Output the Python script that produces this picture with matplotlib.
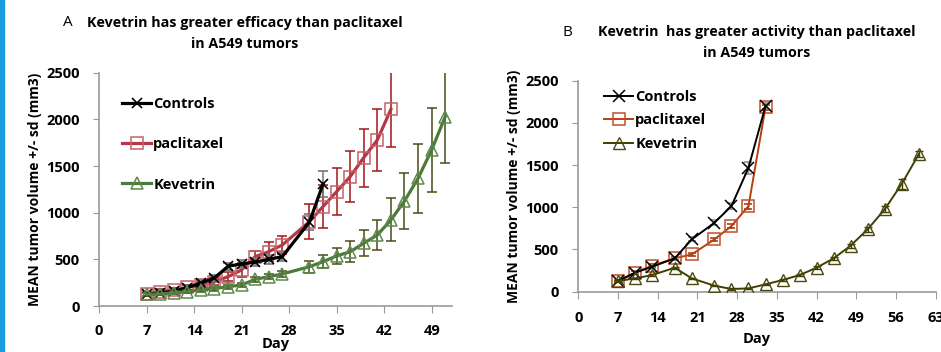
import matplotlib.pyplot as plt
from matplotlib.patches import Rectangle

plt.rcParams['font.family'] = ['Open Sans', 'DejaVu Sans']

# ---- panel A data ----
a_ctrl_day = [7, 9, 11, 13, 15, 17, 19, 21, 23, 25, 27, 31, 33]
a_ctrl_vol = [128, 140, 160, 195, 246, 300, 425, 452, 470, 500, 529, 900, 1307]
a_ctrl_sd = [20, 20, 20, 25, 30, 35, 40, 40, 40, 45, 50, 90, 135]

a_pac_day = [7, 9, 11, 13, 15, 17, 19, 21, 23, 25, 27, 31, 33, 35, 37, 39, 41, 43]
a_pac_vol = [127, 154, 171, 200, 225, 261, 314, 386, 529, 582, 654, 904, 1065,
             1225, 1386, 1590, 1779, 2108]
a_pac_sd = [25, 25, 25, 30, 30, 35, 45, 70, 60, 100, 100, 190, 230,
            250, 270, 310, 335, 400]

a_kev_day = [7, 9, 11, 13, 15, 17, 19, 21, 23, 25, 27, 31, 33, 35, 37, 39,
             41, 43, 45, 47, 49, 51]
a_kev_vol = [125, 129, 143, 154, 171, 186, 207, 225, 286, 314, 343, 421, 475,
             536, 582, 672, 761, 922, 1125, 1368, 1672, 2029]
a_kev_sd = [15, 15, 15, 15, 18, 20, 20, 22, 25, 28, 30, 65, 70, 90, 110, 140,
            165, 230, 300, 370, 450, 500]

# ---- panel B data ----
b_ctrl_day = [7, 10, 13, 17, 20, 24, 27, 30, 33]
b_ctrl_vol = [126, 225, 296, 395, 620, 817, 1015, 1469, 2200]
b_ctrl_sd = [10, 15, 15, 20, 25, 30, 35, 70, 30]

b_pac_day = [7, 10, 13, 17, 20, 24, 27, 30, 33]
b_pac_vol = [126, 225, 308, 395, 442, 620, 778, 1015, 2184]
b_pac_sd = [10, 15, 15, 15, 20, 20, 25, 30, 30]

b_kev_day = [7, 10, 13, 17, 20, 24, 27, 30, 33, 36, 39, 42, 45, 48, 51, 54, 57, 60]
b_kev_vol = [126, 158, 197, 284, 158, 71, 32, 39, 87, 138, 197, 284, 395,
             545, 739, 975, 1276, 1627]
b_kev_sd = [8, 8, 10, 12, 10, 8, 6, 6, 8, 10, 12, 15, 18, 25, 30, 35, 60, 35]

ylabel = 'MEAN tumor volume +/- sd (mm3)'

fig = plt.figure(figsize=(9.41, 3.52), dpi=100)
fig.patches.append(Rectangle((0, 0), 3.5 / 941, 1, transform=fig.transFigure,
                             color='#1A9BE0', zorder=0))


def style_axes(ax, xmax, xpad):
    for s in ['top', 'right']:
        ax.spines[s].set_visible(False)
    for s in ['left', 'bottom']:
        ax.spines[s].set_color('#999999')
        ax.spines[s].set_linewidth(1.2)
    ax.set_ylim(0, 2500)
    ax.set_xlim(0, xmax)
    ax.set_xticks(range(0, xmax + 1, 7))
    ax.set_yticks(range(0, 2501, 500))
    ax.tick_params(axis='x', direction='out', length=5, color='#999999', pad=xpad,
                   labelsize=10.5)
    ax.tick_params(axis='y', direction='out', length=4, color='#999999', pad=10,
                   labelsize=10.5)
    for lab in ax.get_xticklabels() + ax.get_yticklabels():
        lab.set_fontweight('bold')


# ---- panel A ----
ax = fig.add_axes([99 / 941, 1 - 306 / 352, 353 / 941, 233.3 / 352])
ax.errorbar(a_ctrl_day, a_ctrl_vol, yerr=a_ctrl_sd, color='black', lw=2.3,
            marker='x', ms=7, mew=1.2, ecolor='#777777', elinewidth=1.1,
            capsize=3.5, label='Controls', zorder=3)
ax.errorbar(a_pac_day, a_pac_vol, yerr=a_pac_sd, color='#B23A48', lw=2.3,
            marker='s', ms=8, mfc='none', mec='#C8606A', mew=1.1,
            ecolor='#A01818', elinewidth=1.1, capsize=3.5, label='paclitaxel',
            zorder=2)
ax.errorbar(a_kev_day, a_kev_vol, yerr=a_kev_sd, color='#4B7A3A', lw=2.3,
            marker='^', ms=8, mfc='none', mec='#5E8A4C', mew=1.1,
            ecolor='#4A4A18', elinewidth=1.1, capsize=3.5, label='Kevetrin',
            zorder=4)
style_axes(ax, 52, 8)
ax.set_xlabel('Day', fontsize=10.5, fontweight='bold', labelpad=-1)
ax.set_ylabel(ylabel, fontsize=10, fontweight='bold', labelpad=3)
h, l = ax.get_legend_handles_labels()
h = [hh[0] for hh in h]
ax.legend(h, l, loc='upper left', bbox_to_anchor=(122 / 941, 1 - 97 / 352),
          bbox_transform=fig.transFigure, frameon=False, handlelength=2.0,
          handletextpad=0.15, labelspacing=1.8,
          prop={'weight': 'bold', 'size': 10.5}, borderaxespad=0, borderpad=0)
fig.text(68 / 941, 1 - 23 / 352, 'A', fontsize=11, ha='center', va='center')
fig.text(245 / 941, 1 - 23 / 352, 'Kevetrin has greater efficacy than paclitaxel',
         fontsize=10.3, fontweight='bold', ha='center', va='center')
fig.text(245 / 941, 1 - 44 / 352, 'in A549 tumors', fontsize=10.3,
         fontweight='bold', ha='center', va='center')

# ---- panel B ----
bx = fig.add_axes([578.3 / 941, 1 - 291.7 / 352, 357.4 / 941, 211 / 352])
bx.errorbar(b_ctrl_day, b_ctrl_vol, yerr=b_ctrl_sd, color='black', lw=1.4,
            marker='x', ms=8, mew=1.1, ecolor='#888888', elinewidth=1.0,
            capsize=3, label='Controls', zorder=3)
bx.errorbar(b_pac_day, b_pac_vol, yerr=b_pac_sd, color='#B5400F', lw=1.4,
            marker='s', ms=8, mfc='none', mec='#C0502A', mew=1.1,
            ecolor='#A03010', elinewidth=1.0, capsize=3, label='paclitaxel',
            zorder=2)
bx.errorbar(b_kev_day, b_kev_vol, yerr=b_kev_sd, color='#3F3F00', lw=1.4,
            marker='^', ms=8, mfc='none', mec='#4A4A10', mew=1.0,
            ecolor='#3F3F00', elinewidth=1.0, capsize=3, label='Kevetrin',
            zorder=4)
style_axes(bx, 63, 9)
bx.set_xlabel('Day', fontsize=10.5, fontweight='bold', labelpad=5)
bx.set_ylabel(ylabel, fontsize=10, fontweight='bold', labelpad=3)
h, l = bx.get_legend_handles_labels()
h = [hh[0] for hh in h]
bx.legend(h, l, loc='upper left', bbox_to_anchor=(604 / 941, 1 - 90 / 352),
          bbox_transform=fig.transFigure, frameon=False, handlelength=2.0,
          handletextpad=0.15, labelspacing=0.65,
          prop={'weight': 'bold', 'size': 10.5}, borderaxespad=0, borderpad=0)
fig.text(567 / 941, 1 - 32 / 352, 'B', fontsize=11, ha='center', va='center')
fig.text(757 / 941, 1 - 32 / 352, 'Kevetrin  has greater activity than paclitaxel',
         fontsize=10.3, fontweight='bold', ha='center', va='center')
fig.text(757 / 941, 1 - 53 / 352, 'in A549 tumors', fontsize=10.3,
         fontweight='bold', ha='center', va='center')

fig.savefig('out.png', dpi=100)
